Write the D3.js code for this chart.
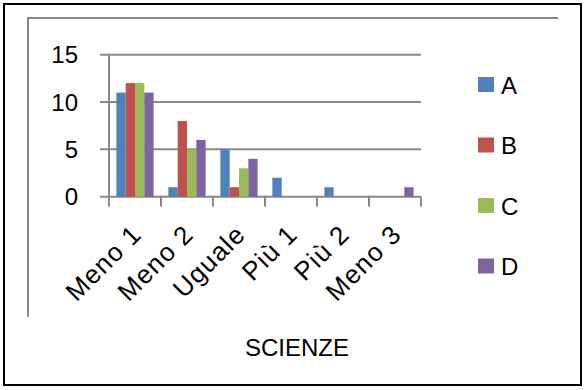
<!DOCTYPE html>
<html><head><meta charset="utf-8">
<script src="https://cdn.jsdelivr.net/npm/d3@7"></script>
<style>body{margin:0;background:#fff;} svg{display:block;}</style>
</head><body>
<svg id="c" width="586" height="390"></svg>
<script>
const categories = ["Meno 1","Meno 2","Uguale","Più 1","Più 2","Meno 3"];
const seriesNames = ["A","B","C","D"];
const valuesA = [11,1,5,2,1,0];
const valuesB = [12,8,1,0,0,0];
const valuesC = [12,5,3,0,0,0];
const valuesD = [11,6,4,0,0,1];
const yTicks = [0,5,10,15];
const colors = ["#4F81BD","#C0504D","#9BBB59","#8064A2"];
const xTitle = "SCIENZE";

const series = [valuesA,valuesB,valuesC,valuesD];
const svg = d3.select("#c");
const font = "'Liberation Sans', Arial, sans-serif";

// outer border
svg.append("rect").attr("x",4).attr("y",4).attr("width",577).attr("height",381)
  .attr("fill","none").attr("stroke","#000").attr("stroke-width",2);
// inner chart-area border (partial)
svg.append("path").attr("d","M28,317V18H558").attr("fill","none").attr("stroke","#888").attr("stroke-width",2);

const x = d3.scaleBand().domain(categories).range([109,421]).padding(0);
const xs = d3.scaleBand().domain(seriesNames).range([0,x.bandwidth()]).paddingInner(0).paddingOuter(0.79);
const y = d3.scaleLinear().domain([0,15]).range([196.7,54.7]);

// gridlines
svg.append("g").selectAll("line").data(yTicks).join("line")
  .attr("x1",100).attr("x2",421).attr("y1",d=>y(d)).attr("y2",d=>y(d))
  .attr("stroke","#888").attr("stroke-width",2);
// y axis line
svg.append("line").attr("x1",109).attr("x2",109).attr("y1",y(15)).attr("y2",y(0)+10)
  .attr("stroke","#888").attr("stroke-width",2);
// category ticks
const bounds = categories.map(c=>x(c)).concat([x(categories[categories.length-1])+x.bandwidth()]);
svg.append("g").selectAll("line").data(bounds.slice(1)).join("line")
  .attr("x1",d=>d).attr("x2",d=>d).attr("y1",y(0)).attr("y2",y(0)+10)
  .attr("stroke","#888").attr("stroke-width",2);

// bars
series.forEach((vals,si)=>{
  svg.append("g").selectAll("rect").data(vals.map((v,i)=>({v,c:categories[i]}))).join("rect")
    .attr("x",d=>x(d.c)+xs(seriesNames[si]))
    .attr("width",xs.bandwidth())
    .attr("y",d=>y(d.v))
    .attr("height",d=>y(0)-y(d.v))
    .attr("fill",colors[si]);
});

// y tick labels
svg.append("g").selectAll("text").data(yTicks).join("text")
  .attr("x",78).attr("y",d=>y(d)).attr("dy","0.36em").attr("text-anchor","end")
  .attr("font-family",font).attr("font-size",24).attr("fill","#000").text(d=>d);

// category labels
svg.append("g").selectAll("text").data(categories).join("text")
  .attr("transform",c=>`translate(${x(c)+x.bandwidth()/2+8},${236}) rotate(-45)`)
  .attr("text-anchor","end")
  .attr("letter-spacing",1.2)
  .attr("font-family",font).attr("font-size",26).attr("fill","#000").text(c=>c);

// x title
svg.append("text").attr("x",297).attr("y",356).attr("text-anchor","middle")
  .attr("font-family",font).attr("font-size",24).attr("fill","#000").text(xTitle);

// legend
const lg = svg.append("g").selectAll("g").data(seriesNames).join("g")
  .attr("transform",(d,i)=>`translate(478,${85+i*60.5})`);
lg.append("rect").attr("x",0).attr("y",-8).attr("width",16).attr("height",15).attr("fill",(d,i)=>colors[i]);
lg.append("text").attr("x",23).attr("y",0).attr("dy","0.36em")
  .attr("font-family",font).attr("font-size",24).attr("fill","#000").text(d=>d);
</script>
</body></html>
